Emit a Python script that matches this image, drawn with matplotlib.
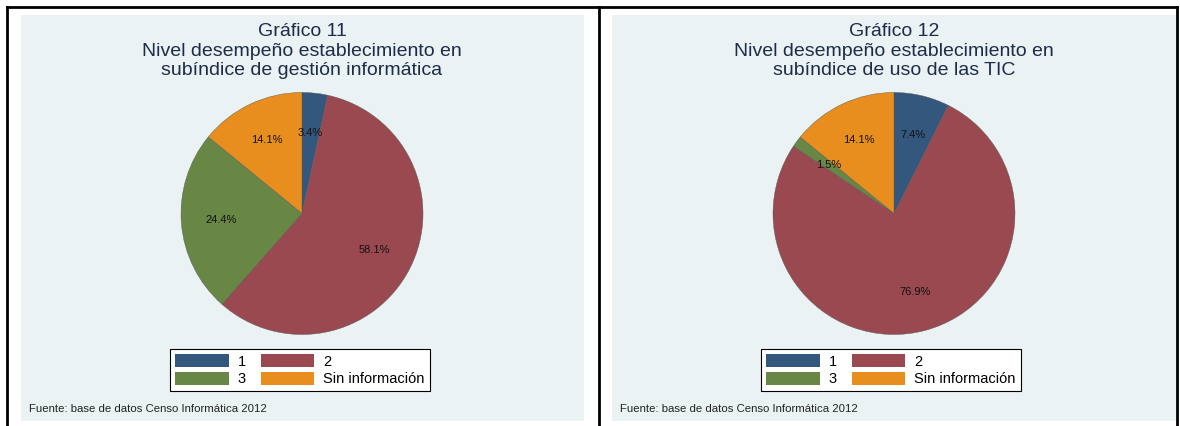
import numpy as np
import matplotlib
matplotlib.use("Agg")
import matplotlib.pyplot as plt
from matplotlib.patches import Rectangle, Patch
from matplotlib.lines import Line2D

plt.rcParams['font.family'] = ['Liberation Sans', 'DejaVu Sans']

# data
categories = ['1', '2', '3', 'Sin información']
gestion_pct = [3.4, 58.1, 24.4, 14.1]
tic_pct = [7.4, 76.9, 1.5, 14.1]
titles = [
    'Gráfico 11\nNivel desempeño establecimiento en\nsubíndice de gestión informática',
    'Gráfico 12\nNivel desempeño establecimiento en\nsubíndice de uso de las TIC',
]
fuente = 'Fuente: base de datos Censo Informática 2012'

# style
colors = ['#34587d', '#9b4950', '#688644', '#e88e1e']
bg = '#eaf2f3'
title_col = '#1e2b4a'
W, H = 1180, 426
R_PX = 121
LABEL_R = 0.67

fig = plt.figure(figsize=(W / 100, H / 100), dpi=100)
fig.patch.set_facecolor('white')


def fx(x):
    return x / W


def fy(y):
    return 1 - y / H


def box(x0, y0, x1, y1):
    # pixel box -> figure rect (left, bottom, width, height)
    return [fx(x0), fy(y1), (x1 - x0) / W, (y1 - y0) / H]


panels = [
    dict(bg=(21, 15, 584, 421), plot=(26, 83, 578, 344), legx=170),
    dict(bg=(612, 15, 1176, 421), plot=(617, 83, 1171, 344), legx=761),
]

# legend fills column-wise, so reorder to get rows (1, 2) / (3, Sin información)
leg_order = [0, 2, 1, 3]

for i, (p, vals) in enumerate(zip(panels, [gestion_pct, tic_pct])):
    bx = p['bg']
    fig.patches.append(Rectangle((fx(bx[0]), fy(bx[3])), (bx[2] - bx[0]) / W, (bx[3] - bx[1]) / H,
                                 transform=fig.transFigure, facecolor=bg, edgecolor='none', zorder=-5))
    px = p['plot']
    ax = fig.add_axes(box(*px))
    ax.set_zorder(1)
    ax.set_facecolor('white')
    for s in ax.spines.values():
        s.set_visible(False)
    ax.set_xticks([])
    ax.set_yticks([])

    wedges, _ = ax.pie(vals, colors=colors, startangle=90, counterclock=False,
                       wedgeprops=dict(linewidth=0.3, edgecolor='#555555'))
    pw = px[2] - px[0]
    ph = px[3] - px[1]
    ax.set_xlim(-pw / 2 / R_PX, pw / 2 / R_PX)
    ax.set_ylim(-ph / 2 / R_PX, ph / 2 / R_PX)
    ax.set_aspect('auto')

    for w, v in zip(wedges, vals):
        ang = np.deg2rad((w.theta1 + w.theta2) / 2)
        ax.text(LABEL_R * np.cos(ang), LABEL_R * np.sin(ang), f'{v:.1f}%', ha='center', va='center',
                fontsize=8, color='#111111')

    cx = (px[0] + px[2]) / 2
    fig.text(fx(cx), fy(23), titles[i], ha='center', va='top', fontsize=14,
             color=title_col, linespacing=1.2)

    handles = [Patch(facecolor=colors[k], edgecolor='none') for k in leg_order]
    labels = [categories[k] for k in leg_order]
    leg = fig.legend(handles, labels, ncol=2, loc='upper left',
                     bbox_to_anchor=(fx(p['legx']), fy(349)), frameon=True,
                     fontsize=10.5, handlelength=3.7, handleheight=1.0,
                     handletextpad=0.6, columnspacing=1.0, labelspacing=0.2,
                     borderpad=0.35, borderaxespad=0, fancybox=False, framealpha=1)
    leg.get_frame().set_edgecolor('black')
    leg.get_frame().set_linewidth(0.8)
    leg.get_frame().set_facecolor('white')
    leg.set_zorder(2)

    fig.text(fx(bx[0] + 8), fy(409), fuente, ha='left', va='center', fontsize=8.2, color='#222222')

# table borders
lw = 2
fig.lines.append(Line2D([fx(7), fx(1177)], [fy(7), fy(7)], transform=fig.transFigure, color='black', lw=lw))
for x in (7, 599, 1177):
    fig.lines.append(Line2D([fx(x), fx(x)], [fy(7), fy(426)], transform=fig.transFigure, color='black', lw=lw))

fig.savefig('out.png', dpi=100, facecolor='white')
